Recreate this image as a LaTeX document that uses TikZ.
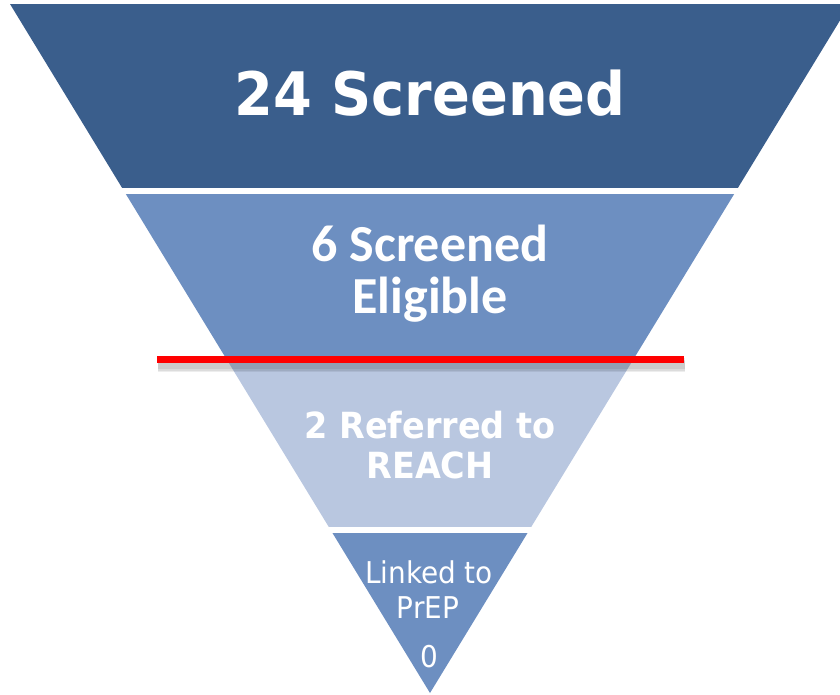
\documentclass[tikz,border=0pt]{standalone}
\usepackage{fontspec}
\newfontfamily\tahfont[FakeStretch=0.93]{DejaVu Sans}
\newfontfamily\calfont{Carlito}
\usepackage{tikz}

\definecolor{darkblue}{HTML}{3A5E8C}
\definecolor{midblue}{HTML}{6D8FC1}
\definecolor{paleblue}{HTML}{B9C7E0}
\definecolor{cutred}{HTML}{FF0000}

\tikzset{
  lbl/.style={text=white, inner sep=0pt, anchor=base}
}

\begin{document}
\begin{tikzpicture}[x=1pt,y=-1pt]
\useasboundingbox (0,0) rectangle (840,694);
\clip (0,0) rectangle (840,694);
\coordinate (tl) at (10,4);
\coordinate (tr) at (850,4);
\coordinate (tip) at (430,693);
% funnel bands
\foreach \ya/\yb/\col in {4/188/darkblue, 194/357/midblue, 362/527/paleblue, 533/694/midblue}{
  \begin{scope}
    \clip (tl) -- (tr) -- (tip) -- cycle;
    \fill[\col] (0,\ya) rectangle (860,\yb);
  \end{scope}
}
% red cut line
\coordinate (cutl) at (157,359);
\coordinate (cutr) at (684,359);
\foreach \w in {14,11,8}{
  \draw[black, opacity=.07, line width=\w pt] ([shift={(1,6)}]cutl) -- ([shift={(1,6)}]cutr);
}
\draw[cutred, line width=7pt] (cutl) -- (cutr);
% labels
\node[lbl, font=\tahfont\bfseries\fontsize{60}{60}\selectfont] (screened) at (430,115) {24 Screened};
\node[lbl, font=\calfont\bfseries\fontsize{52}{52}\selectfont] (elig1) at (430,261) {6 Screened};
\node[lbl, font=\calfont\bfseries\fontsize{52}{52}\selectfont] (elig2) at (430,313) {Eligible};
\node[lbl, font=\tahfont\bfseries\fontsize{36}{36}\selectfont] (ref1) at (430,438) {2 Referred to};
\node[lbl, font=\tahfont\bfseries\fontsize{36}{36}\selectfont] (ref2) at (430,478) {REACH};
\node[lbl, font=\tahfont\fontsize{30}{30}\selectfont] (link1) at (429,583) {Linked to};
\node[lbl, font=\tahfont\fontsize{30}{30}\selectfont] (link2) at (428,618) {PrEP};
\node[lbl, font=\tahfont\fontsize{30}{30}\selectfont] (link3) at (429,667) {0};
\end{tikzpicture}
\end{document}
